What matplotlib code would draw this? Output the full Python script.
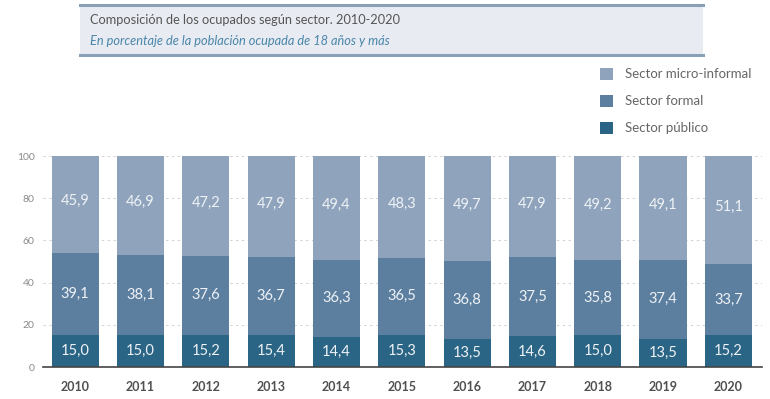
import numpy as np
import matplotlib.pyplot as plt
from matplotlib.patches import Rectangle, Patch
from matplotlib.lines import Line2D

years = ["2010", "2011", "2012", "2013", "2014", "2015", "2016", "2017", "2018", "2019", "2020"]
publico = [15.0, 15.0, 15.2, 15.4, 14.4, 15.3, 13.5, 14.6, 15.0, 13.5, 15.2]
formal = [39.1, 38.1, 37.6, 36.7, 36.3, 36.5, 36.8, 37.5, 35.8, 37.4, 33.7]
micro = [45.9, 46.9, 47.2, 47.9, 49.4, 48.3, 49.7, 47.9, 49.2, 49.1, 51.1]

c_micro = "#8fa4bc"
c_formal = "#5d7f9f"
c_pub = "#2b6585"

plt.rcParams['font.family'] = ['Lato', 'DejaVu Sans']

fig = plt.figure(figsize=(7.7, 3.99), dpi=100)
fig.patch.set_facecolor("white")
ax = fig.add_axes([0.056, 0.080, 0.934, 0.529])

x = np.arange(len(years))
w = 0.72
pub = np.array(publico)
frm = np.array(formal)
mic = np.array(micro)

ax.bar(x, pub, width=w, color=c_pub, zorder=3)
ax.bar(x, frm, width=w, bottom=pub, color=c_formal, zorder=3)
ax.bar(x, mic, width=w, bottom=pub + frm, color=c_micro, zorder=3)


def fmt(v):
    return f"{v:.1f}".replace(".", ",")


# labels centred in each segment
for i in range(len(years)):
    ax.text(x[i], pub[i] / 2, fmt(pub[i]), ha="center", va="center",
            color="#eef2f6", fontsize=10.5, zorder=4)
    ax.text(x[i], pub[i] + frm[i] / 2, fmt(frm[i]), ha="center", va="center",
            color="#eef2f6", fontsize=10.5, zorder=4)
    ax.text(x[i], pub[i] + frm[i] + mic[i] / 2 + 1.5, fmt(mic[i]), ha="center", va="center",
            color="#eef2f6", fontsize=10.5, zorder=4)

ax.set_xlim(-0.49, 10.52)
ax.set_ylim(0, 100)
ax.set_yticks([0, 20, 40, 60, 80, 100])
ax.tick_params(axis="y", length=0, labelsize=7.5, labelcolor="#8a8a8a", pad=6)
ax.tick_params(axis="x", length=0, pad=10)
ax.set_xticks(x)
ax.set_xticklabels(years, fontsize=9, fontweight="bold", color="#505050")
ax.grid(axis="y", color="#d2d2d2", linestyle=(0, (2.5, 3.5)), linewidth=0.7, zorder=0)
for s in ["top", "right", "left"]:
    ax.spines[s].set_visible(False)
ax.spines["bottom"].set_color("#444444")
ax.spines["bottom"].set_linewidth(1.2)
ax.spines["bottom"].set_zorder(5)

# title box
fig.patches.append(Rectangle((0.104, 0.862), 0.809, 0.125, transform=fig.transFigure,
                             facecolor="#e8ebf1", edgecolor="none", zorder=0))
fig.add_artist(Line2D([0.104, 0.913], [0.987, 0.987], color="#8aa0b6", linewidth=2.2))
fig.add_artist(Line2D([0.104, 0.913], [0.862, 0.862], color="#8aa0b6", linewidth=2.2))
fig.text(0.117, 0.950, "Composición de los ocupados según sector. 2010-2020", fontsize=9.2,
         color="#555555", va="center")
fig.text(0.117, 0.897, "En porcentaje de la población ocupada de 18 años y más", fontsize=9.2,
         color="#4a86aa", style="italic", va="center")

handles = [Patch(facecolor=c_micro), Patch(facecolor=c_formal), Patch(facecolor=c_pub)]
labels = ["Sector micro-informal", "Sector formal", "Sector público"]
fig.legend(handles, labels, loc="upper left", bbox_to_anchor=(0.772, 0.843), frameon=False,
           fontsize=9.5, labelcolor="#666666", handlelength=1.0, handleheight=1.0,
           labelspacing=1.1, handletextpad=0.9, borderaxespad=0)

plt.savefig("out.png", dpi=100)
